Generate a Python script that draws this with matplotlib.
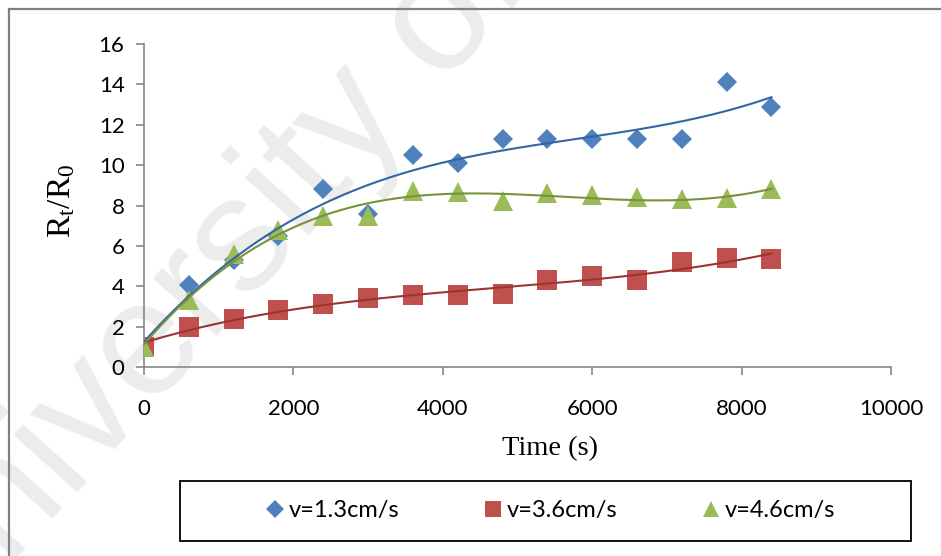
#!/usr/bin/env python3
import numpy as np
import matplotlib

matplotlib.use("Agg")
import matplotlib.pyplot as plt
from matplotlib.lines import Line2D
from matplotlib.patches import Rectangle

# data
time_s = [0, 600, 1200, 1800, 2400, 3000, 3600, 4200, 4800, 5400, 6000, 6600, 7200, 7800, 8400]
ratio_v13 = [1.0, 4.05, 5.3, 6.5, 8.8, 7.6, 10.5, 10.1, 11.3, 11.3, 11.3, 11.3, 11.3, 14.1, 12.9]
ratio_v36 = [1.0, 2.0, 2.4, 2.8, 3.1, 3.4, 3.55, 3.55, 3.6, 4.3, 4.5, 4.3, 5.2, 5.4, 5.35]
ratio_v46 = [1.0, 3.3, 5.6, 6.8, 7.5, 7.5, 8.7, 8.65, 8.2, 8.6, 8.5, 8.4, 8.3, 8.35, 8.8]
series_labels = ["v=1.3cm/s", "v=3.6cm/s", "v=4.6cm/s"]
x_ticks = [0, 2000, 4000, 6000, 8000, 10000]
y_ticks = [0, 2, 4, 6, 8, 10, 12, 14, 16]

W, H = 941, 556
fig = plt.figure(figsize=(W / 100, H / 100), dpi=100)

# watermark behind the plot
fig.text(-70 / W, 1 - 655 / H, "University of Malaya", rotation=48, rotation_mode="anchor",
         ha="left", va="baseline", fontsize=118, color="#ececec", family="Liberation Sans",
         zorder=-1)

# outer chart frame (only top and left visible)
fig.add_artist(Line2D([9 / W, 1], [1 - 9 / H, 1 - 9 / H], color="#808080", lw=1.6))
fig.add_artist(Line2D([9 / W, 9 / W], [0, 1 - 9 / H], color="#808080", lw=1.6))

ax = fig.add_axes([144 / W, 1 - 367 / H, (891 - 144) / W, (367 - 44) / H])
ax.set_facecolor("none")

styles = [
    (ratio_v13, "D", 10.2, "#4F81BD", "#3465A4"),
    (ratio_v36, "s", 14.0, "#C0504D", "#9B3532"),
    (ratio_v46, "^", 14.0, "#9BBB59", "#76933C"),
]
t_fit = np.linspace(time_s[0], time_s[-1], 200)
handles = []
for (vals, marker, ms, color, line_color), label in zip(styles, series_labels):
    ax.plot(time_s, vals, linestyle="none", marker=marker, ms=ms, color=color,
            markeredgewidth=0, zorder=3)
    coef = np.polyfit(time_s, vals, 3)
    ax.plot(t_fit, np.polyval(coef, t_fit), color=line_color, lw=1.5, zorder=4)
    handles.append(Line2D([], [], linestyle="none", marker=marker, ms=ms * 0.85,
                          color=color, markeredgewidth=0, label=label))

ax.set_xlim(0, 10000)
ax.set_ylim(0, 16)
ax.set_xticks(x_ticks)
ax.set_yticks(y_ticks)
for side in ("top", "right"):
    ax.spines[side].set_visible(False)
for side in ("left", "bottom"):
    ax.spines[side].set_color("#868686")
    ax.spines[side].set_linewidth(1.2)
ax.tick_params(axis="both", color="#868686", width=1.2, length=6, labelsize=16,
               labelfontfamily="Lato")
ax.tick_params(axis="x", pad=17)
ax.tick_params(axis="y", pad=8)

fig.text(550 / W, 1 - 449 / H, "Time (s)", ha="center", va="center",
         fontsize=20.5, family="Liberation Serif")
fig.text(62 / W, 1 - 201 / H, r"$\mathregular{R_t/R_0}$", ha="center", va="center",
         rotation=90, fontsize=24, family="Liberation Serif")

# legend box
fig.add_artist(Rectangle((180 / W, 1 - 541 / H), (911 - 180) / W, 60 / H,
                         transform=fig.transFigure, fill=False, edgecolor="black", lw=1.3))
fig.legend(handles=handles, loc="center left", bbox_to_anchor=(254 / W, 1 - 511 / H),
           ncol=3, frameon=False, prop={"family": "Lato", "size": 17}, borderpad=0,
           handletextpad=0.2, handlelength=0.75, columnspacing=3.6)

fig.savefig("out.png", dpi=100)
